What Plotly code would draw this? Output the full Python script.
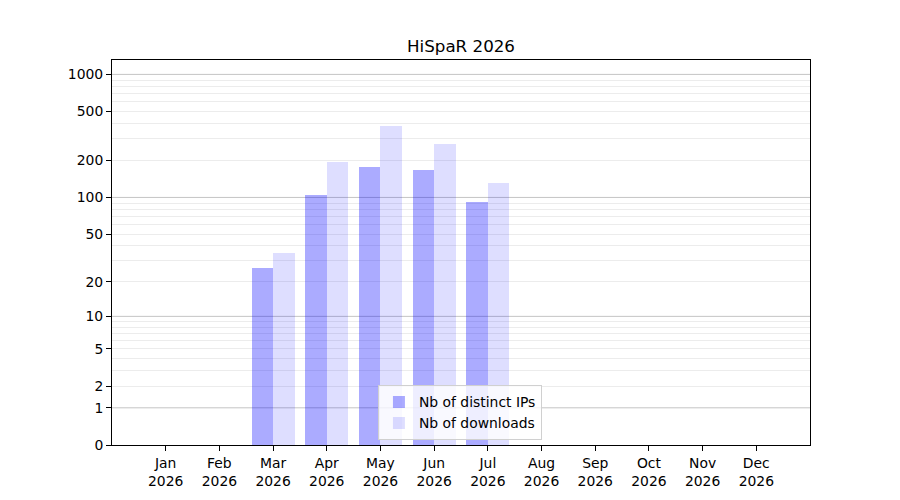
import numpy as np
import plotly.graph_objects as go

months = ["Jan", "Feb", "Mar", "Apr", "May", "Jun", "Jul", "Aug", "Sep", "Oct", "Nov", "Dec"]
year = "2026"
distinct_ips = [0, 0, 26, 104, 177, 168, 92, 0, 0, 0, 0, 0]
downloads = [0, 0, 35, 195, 385, 270, 130, 0, 0, 0, 0, 0]

ytick_vals = [0, 1, 2, 5, 10, 20, 50, 100, 200, 500, 1000]
decades = [1, 10, 100, 1000]
minor_vals = [m * d for d in [1, 10, 100] for m in range(2, 10)]


def symlog(v):
    # y = log10(1 + x), what the picture's scale looks like
    return np.log10(1 + np.asarray(v, dtype=float))


xpos = np.arange(len(months))
labels = [m + "<br>" + year for m in months]

fig = go.Figure()
fig.add_trace(go.Bar(
    x=xpos, y=symlog(distinct_ips), width=0.4, offset=-0.4,
    marker=dict(color="rgba(0,0,255,0.33)", line=dict(width=0)),
    name="Nb of distinct IPs",
    customdata=distinct_ips, hovertemplate="%{customdata}<extra></extra>",
))
fig.add_trace(go.Bar(
    x=xpos, y=symlog(downloads), width=0.4, offset=0,
    marker=dict(color="rgba(0,0,255,0.13)", line=dict(width=0)),
    name="Nb of downloads",
    customdata=downloads, hovertemplate="%{customdata}<extra></extra>",
))

# darker lines at decades
for d in decades:
    fig.add_shape(type="line", xref="paper", x0=0, x1=1, yref="y",
                  y0=float(symlog(d)), y1=float(symlog(d)),
                  line=dict(color="#c4c4c4", width=1), layer="between")

# page body adds 8px, so margins are shifted by that
fig.update_layout(
    width=900, height=500,
    paper_bgcolor="white", plot_bgcolor="white",
    margin=dict(l=104, r=98, t=52, b=63),
    font=dict(family="DejaVu Sans", size=13.9, color="black"),
    title=dict(text="HiSpaR 2026", x=0.5, xref="paper", xanchor="center",
               y=0.924, yanchor="middle", font=dict(size=16.7)),
    barmode="overlay",
    bargap=0,
    showlegend=True,
    legend=dict(x=0.381, y=0.012, xanchor="left", yanchor="bottom",
                bgcolor="rgba(255,255,255,0.8)", bordercolor="#d0d0d0", borderwidth=1,
                font=dict(size=13.9), traceorder="normal", tracegroupgap=0),
)
fig.update_xaxes(
    range=[-1, 12], tickmode="array", tickvals=xpos, ticktext=labels,
    showgrid=False, zeroline=False, automargin=False,
    showline=True, linecolor="black", linewidth=1, mirror=True,
    ticks="outside", ticklen=5, tickcolor="black",
)
fig.update_yaxes(
    range=[0, 3.117], tickmode="array", tickvals=symlog(ytick_vals),
    ticktext=[str(v) for v in ytick_vals],
    showgrid=False, zeroline=False, automargin=False,
    showline=True, linecolor="black", linewidth=1, mirror=True,
    ticks="outside", ticklen=5, tickcolor="black",
    minor=dict(tickmode="array", tickvals=symlog(minor_vals), showgrid=True,
               gridcolor="#ececec", gridwidth=1, ticks=""),
)

fig.write_html("out.html")
